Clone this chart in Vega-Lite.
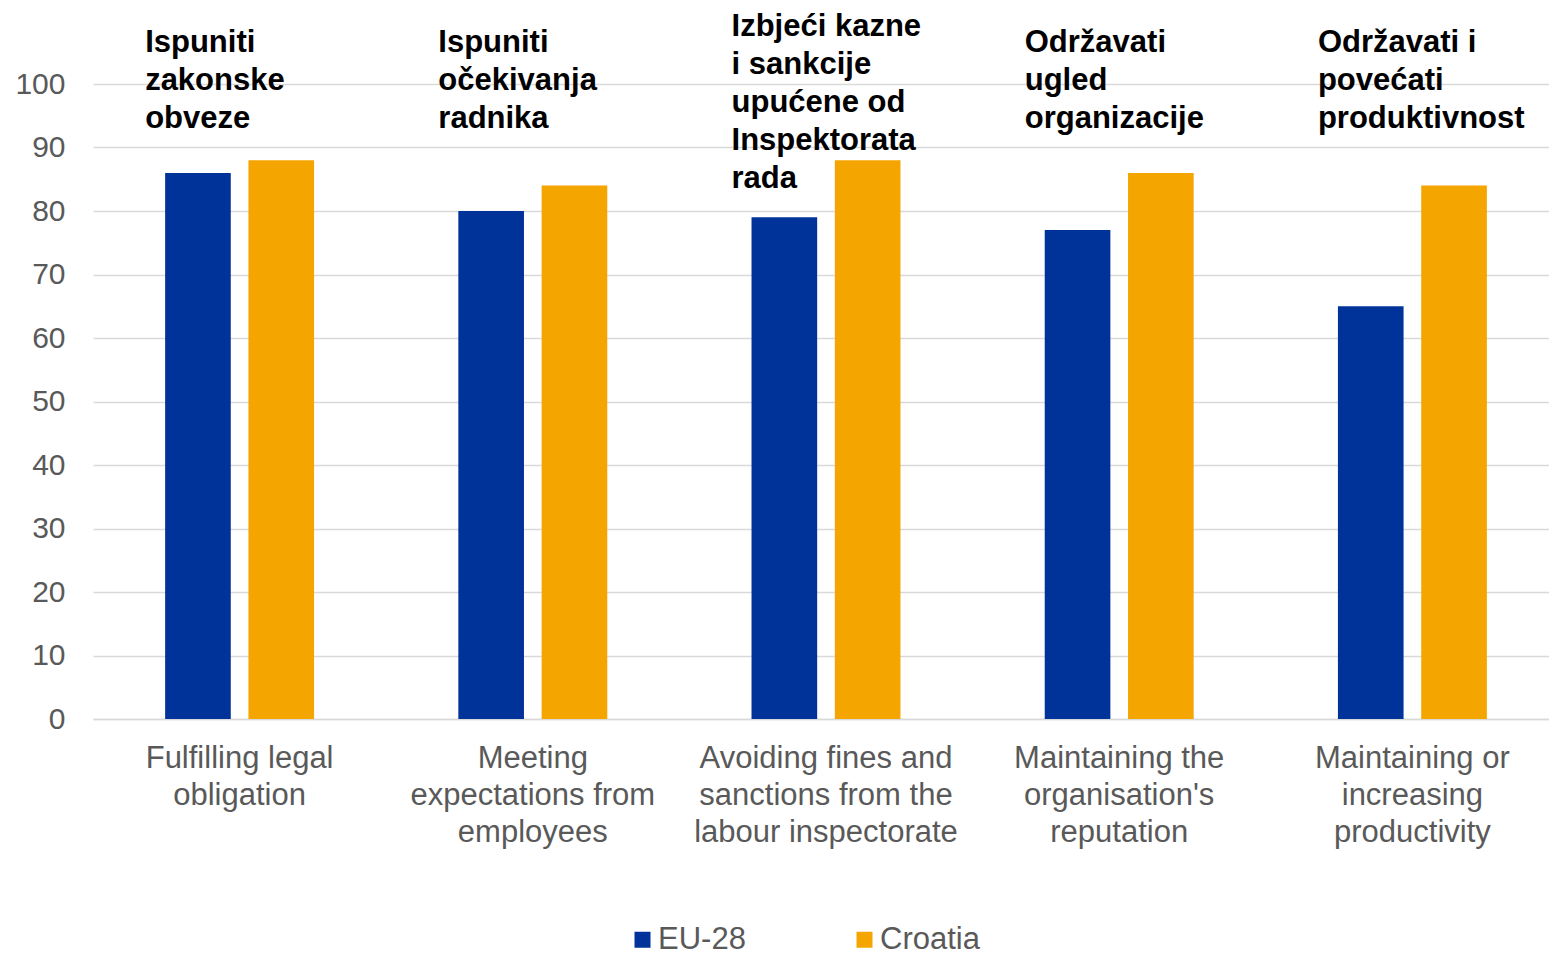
{
  "$schema": "https://vega.github.io/schema/vega-lite/v6.json",
  "width": 1466,
  "height": 635,
  "autosize": {"type": "none"},
  "padding": {"left": 93, "top": 84, "right": 0, "bottom": 235},
  "background": "white",
  "config": {"view": {"stroke": null}, "font": "Liberation Sans"},
  "datasets": {
    "bars": [
      {"category": "Fulfilling legal|obligation", "series": "EU-28", "value": 86},
      {"category": "Fulfilling legal|obligation", "series": "Croatia", "value": 88},
      {"category": "Meeting|expectations from|employees", "series": "EU-28", "value": 80},
      {"category": "Meeting|expectations from|employees", "series": "Croatia", "value": 84},
      {"category": "Avoiding fines and|sanctions from the|labour inspectorate", "series": "EU-28", "value": 79},
      {"category": "Avoiding fines and|sanctions from the|labour inspectorate", "series": "Croatia", "value": 88},
      {"category": "Maintaining the|organisation's|reputation", "series": "EU-28", "value": 77},
      {"category": "Maintaining the|organisation's|reputation", "series": "Croatia", "value": 86},
      {"category": "Maintaining or|increasing|productivity", "series": "EU-28", "value": 65},
      {"category": "Maintaining or|increasing|productivity", "series": "Croatia", "value": 84}
    ],
    "notes": [
      {"category": "Fulfilling legal|obligation", "label": "Ispuniti|zakonske|obveze"},
      {"category": "Meeting|expectations from|employees", "label": "Ispuniti|očekivanja|radnika"},
      {"category": "Avoiding fines and|sanctions from the|labour inspectorate", "label": "Izbjeći kazne|i sankcije|upućene od|Inspektorata|rada"},
      {"category": "Maintaining the|organisation's|reputation", "label": "Održavati|ugled|organizacije"},
      {"category": "Maintaining or|increasing|productivity", "label": "Održavati i|povećati|produktivnost"}
    ]
  },
  "layer": [
    {
      "data": {"name": "bars"},
      "mark": {"type": "bar"},
      "encoding": {
        "x": {
          "field": "category", "type": "nominal", "sort": null,
          "scale": {
            "domain": ["Fulfilling legal|obligation", "Meeting|expectations from|employees", "Avoiding fines and|sanctions from the|labour inspectorate", "Maintaining the|organisation's|reputation", "Maintaining or|increasing|productivity"],
            "paddingInner": 0.492, "paddingOuter": 0.246
          },
          "axis": {
            "title": null, "labelAngle": 0, "ticks": false, "tickSize": 0, "grid": false,
            "domain": true, "domainColor": "#D9D9D9", "domainWidth": 1.5,
            "labelFontSize": 31, "labelColor": "#595959", "labelLineHeight": 37,
            "labelBaseline": "top", "labelPadding": 24, "labelLimit": 0,
            "labelExpr": "split(datum.label, '|')"
          }
        },
        "xOffset": {
          "field": "series", "type": "nominal", "sort": ["EU-28", "Croatia"],
          "scale": {"paddingInner": 0.212, "paddingOuter": 0}
        },
        "y": {
          "field": "value", "type": "quantitative",
          "scale": {"domain": [0, 100], "nice": false},
          "axis": {
            "title": null, "values": [0, 10, 20, 30, 40, 50, 60, 70, 80, 90, 100],
            "grid": true, "gridColor": "#D9D9D9", "gridWidth": 1.5,
            "domain": false, "ticks": false, "tickSize": 0,
            "labelFontSize": 30, "labelColor": "#595959", "labelPadding": 28
          }
        },
        "color": {
          "field": "series", "type": "nominal", "sort": ["EU-28", "Croatia"],
          "scale": {"domain": ["EU-28", "Croatia"], "range": ["#003399", "#F5A500"]},
          "legend": {
            "title": null, "orient": "none", "legendX": 534, "legendY": 840,
            "direction": "horizontal", "padding": 0,
            "symbolType": "square", "symbolSize": 256, "symbolStrokeWidth": 0,
            "labelFontSize": 31, "labelColor": "#595959", "labelOffset": 0,
            "columnPadding": 103, "labelLimit": 0
          }
        }
      }
    },
    {
      "data": {"name": "notes"},
      "transform": [{"filter": "indexof(datum.category, 'Avoiding') < 0"}],
      "mark": {"type": "text", "align": "left", "baseline": "alphabetic", "fontSize": 31, "fontWeight": "bold", "lineBreak": "|", "lineHeight": 38, "dx": -20, "color": "#000000"},
      "encoding": {
        "x": {"field": "category", "type": "nominal", "sort": null, "bandPosition": 0},
        "y": {"datum": 105},
        "text": {"field": "label"}
      }
    },
    {
      "data": {"name": "notes"},
      "transform": [{"filter": "indexof(datum.category, 'Avoiding') >= 0"}],
      "mark": {"type": "text", "align": "left", "baseline": "alphabetic", "fontSize": 31, "fontWeight": "bold", "lineBreak": "|", "lineHeight": 38, "dx": -20, "color": "#000000"},
      "encoding": {
        "x": {"field": "category", "type": "nominal", "sort": null, "bandPosition": 0},
        "y": {"datum": 107.5},
        "text": {"field": "label"}
      }
    }
  ]
}
